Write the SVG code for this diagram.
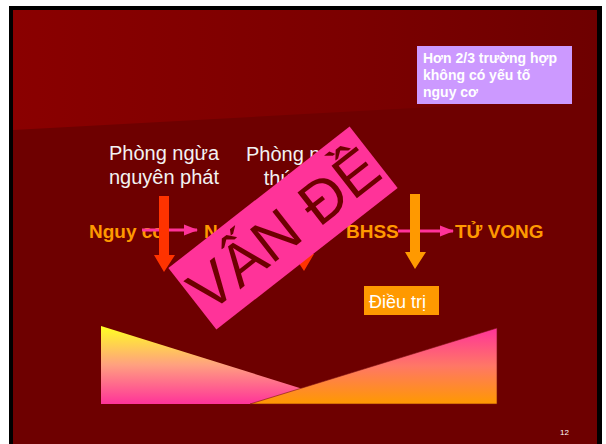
<svg xmlns="http://www.w3.org/2000/svg" width="606" height="444" viewBox="0 0 606 444">
<defs>
<linearGradient id="bgTop" x1="0" y1="0" x2="1" y2="0">
<stop offset="0" stop-color="#8a0000"/>
<stop offset="0.55" stop-color="#7c0000"/>
<stop offset="1" stop-color="#6e0000"/>
</linearGradient>
<linearGradient id="gLeft" x1="0" y1="0" x2="0" y2="1">
<stop offset="0" stop-color="#ffff22"/>
<stop offset="0.5" stop-color="#ffa080"/>
<stop offset="1" stop-color="#ff3399"/>
</linearGradient>
<linearGradient id="gRight" x1="0" y1="0" x2="0" y2="1">
<stop offset="0" stop-color="#ff3399"/>
<stop offset="0.5" stop-color="#ff7766"/>
<stop offset="1" stop-color="#ff9900"/>
</linearGradient>
<marker id="pinkHead" markerWidth="14" markerHeight="12" refX="13" refY="6" orient="auto" markerUnits="userSpaceOnUse">
<path d="M0,0.5 L14,6 L0,11.5 Z" fill="#ff3399"/>
</marker>
<style>
.chain{font-family:"Liberation Sans",Arial,sans-serif;font-weight:bold;font-size:19px;fill:#ff9900}
.prev{font-family:"Liberation Sans",Arial,sans-serif;font-size:20px;fill:#f2f2f2}
.note{font-family:"Liberation Sans",Arial,sans-serif;font-weight:bold;font-size:14px;fill:#ffffff}
.link{stroke:#ff3399;stroke-width:3;fill:none}
</style>
</defs>
<rect x="0" y="0" width="606" height="444" fill="#ffffff"/>
<rect x="9" y="6" width="593" height="440" fill="#000000"/>
<rect x="13" y="10" width="584" height="436" fill="#6e0000"/>
<polygon points="13,10 597,10 597,98 13,130" fill="url(#bgTop)"/>

<g id="note">
<rect x="417" y="46" width="155" height="58" fill="#cc99ff"/>
<text class="note" x="423" y="63">Hơn 2/3 trường hợp</text>
<text class="note" x="423" y="80">không có yếu tố</text>
<text class="note" x="423" y="97">nguy cơ</text>
</g>

<g id="prevention1">
<text class="prev" x="164" y="160" text-anchor="middle">Phòng ngừa</text>
<text class="prev" x="164" y="184" text-anchor="middle">nguyên phát</text>
</g>
<g id="prevention2">
<text class="prev" x="301" y="161" text-anchor="middle">Phòng ngừa</text>
<text class="prev" x="301" y="185" text-anchor="middle">thứ phát</text>
</g>

<g id="risk"><text class="chain" x="89" y="238">Nguy cơ</text></g>
<g id="n"><text class="chain" x="204" y="238">N</text></g>
<g id="bhss"><text class="chain" x="346" y="238">BHSS</text></g>
<g id="death"><text class="chain" x="455" y="238">TỬ VONG</text></g>

<g id="connectors">
<line class="link" x1="142" y1="230" x2="197" y2="230" marker-end="url(#pinkHead)"/>
<line class="link" x1="398" y1="231" x2="453" y2="231" marker-end="url(#pinkHead)"/>
</g>

<g id="arrow1"><polygon points="159,196 169,196 169,255 175,255 164,272 154,255 159,255" fill="#ff3300"/></g>
<g id="arrow2"><polygon points="298,196 308,196 308,254 314,254 304,271 293,254 298,254" fill="#ff3300"/></g>
<g id="arrow3"><polygon points="410,194 420,194 420,252 426,252 415,269 405,252 410,252" fill="#ff9900"/></g>

<g id="treatment">
<rect x="364" y="286" width="75" height="29" fill="#ff9900"/>
<text x="369" y="308" font-family="Liberation Sans, Arial, sans-serif" font-size="18" fill="#ffffff">Điều trị</text>
</g>

<g id="triangles">
<polygon points="101,326 101,404 351,404" fill="url(#gLeft)"/>
<polygon points="250,404 497,328 497,404" fill="url(#gRight)" stroke="#7a1010" stroke-width="0.6"/>
</g>

<g id="stamp" transform="translate(283,228) rotate(-38)">
<rect x="-115" y="-39" width="230" height="78" fill="#ff3399"/>
<text x="0" y="22" text-anchor="middle" font-family="Liberation Sans, Arial, sans-serif" font-size="60" fill="#6e0000">VẤN ĐỀ</text>
</g>

<text x="560" y="435" font-family="Liberation Sans, Arial, sans-serif" font-size="8" fill="#ffffff">12</text>
</svg>
